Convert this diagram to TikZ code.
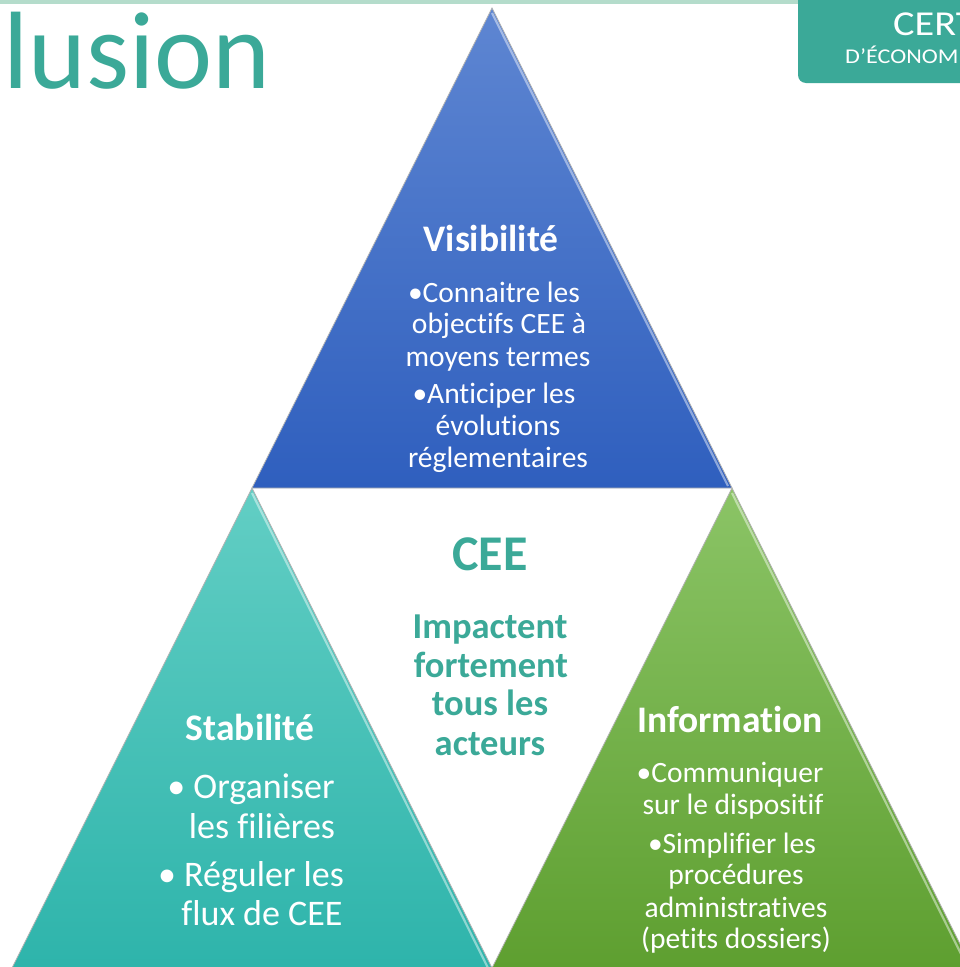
\documentclass[tikz,border=0pt]{standalone}
\usepackage{fontspec}
\usetikzlibrary{calc}
\setmainfont{Carlito}[Ligatures=CommonOff]
\newfontfamily\logofont{Carlito}[FakeStretch=1.15]
\definecolor{teal1}{HTML}{3BA998}
\definecolor{barcol}{HTML}{B4DCCB}
\definecolor{blueT}{HTML}{5E86D2}
\definecolor{blueB}{HTML}{2F5FBE}
\definecolor{tealT}{HTML}{62CEC4}
\definecolor{tealB}{HTML}{2EB4AB}
\definecolor{greenT}{HTML}{8BC466}
\definecolor{greenB}{HTML}{5E9F30}
\tikzset{
  tri/.style={draw=gray!60, line width=0.8pt, line join=miter},
  bevel/.style={line width=2.2pt, draw=white, opacity=0.45},
  head/.style={anchor=base, text=white, font=\fontsize{37.5}{37.5}\selectfont\bfseries, inner sep=0pt},
  small/.style={anchor=base, text=white, font=\fontsize{29.5}{29.5}\selectfont, inner sep=0pt},
  big/.style={anchor=base, text=white, font=\fontsize{36}{36}\selectfont, inner sep=0pt},
  ctr/.style={anchor=base, text=teal1, font=\fontsize{36.5}{36.5}\selectfont\bfseries, inner sep=0pt}
}
\begin{document}
\begin{tikzpicture}[x=1pt,y=-1pt]
\useasboundingbox (0,0) rectangle (959,967);
\fill[white] (0,0) rectangle (959,967);
% top bar and logo box
\fill[barcol] (0,0) rectangle (800,3.5);
\fill[teal1, rounded corners=8pt] (798,-20) rectangle (990,83);
\begin{scope}
\clip (0,0) rectangle (959,967);
\node[anchor=base west, text=white, font=\logofont\fontsize{35}{35}\selectfont, inner sep=0pt] (cert) at (893,35) {CERT};
\node[anchor=base west, text=white, font=\logofont\fontsize{21}{21}\selectfont, inner sep=0pt] (econ) at (845,63) {D’ÉCONOM};
\end{scope}
% title
\node[anchor=base west, text=teal1, font=\fontsize{110}{110}\selectfont, inner sep=0pt] (title) at (3,88) {lusion};
% triangle corners
\coordinate (tA) at (492,8);
\coordinate (tL) at (252,488);
\coordinate (tR) at (732,488);
\coordinate (lA) at (252,488);
\coordinate (lL) at (12,968);
\coordinate (lR) at (492,968);
\coordinate (rA) at (732,488);
\coordinate (rL) at (492,968);
\coordinate (rR) at (972,968);
% triangles
\shade[top color=blueT, bottom color=blueB] (tA) -- (tR) -- (tL) -- cycle;
\draw[tri] (tA) -- (tR) -- (tL) -- cycle;
\draw[bevel] ($(tA)+(0,5)$) -- ($(tR)+(-4,-2)$);
\shade[top color=tealT, bottom color=tealB] (lA) -- (lR) -- (lL) -- cycle;
\draw[tri] (lA) -- (lR) -- (lL) -- cycle;
\draw[bevel] ($(lA)+(0,5)$) -- ($(lR)+(-4,0)$);
\shade[top color=greenT, bottom color=greenB] (rA) -- (rR) -- (rL) -- cycle;
\draw[tri] (rA) -- (rR) -- (rL) -- cycle;
\draw[bevel] ($(rA)+(0,5)$) -- ($(rR)+(-4,0)$);
% Visibilite
\node[head] (vis) at (491,251) {Visibilité};
\node[small] (v1) at (494,302) {•Connaitre les};
\node[small] (v2) at (499,333) {objectifs CEE à};
\node[small] (v3) at (498,366) {moyens termes};
\node[small] (v4) at (494,403) {•Anticiper les};
\node[small] (v5) at (498,435) {évolutions};
\node[small] (v6) at (498,467) {réglementaires};
% Stabilite
\node[head] (sta) at (250,740) {Stabilité};
\node[big] (s1) at (251,798) {• Organiser};
\node[big] (s2) at (262,838) {les filières};
\node[big] (s3) at (251,886) {• Réguler les};
\node[big] (s4) at (262,925) {flux de CEE};
% Information
\node[head] (inf) at (730,732) {Information};
\node[small] (i1) at (730,782) {•Communiquer};
\node[small] (i2) at (733,814) {sur le dispositif};
\node[small] (i3) at (732,853) {•Simplifier les};
\node[small] (i4) at (736,884) {procédures};
\node[small] (i5) at (736,917) {administratives};
\node[small] (i6) at (736,948) {(petits dossiers)};
% centre
\node[anchor=base, text=teal1, font=\fontsize{50}{50}\selectfont\bfseries, inner sep=0pt] (cee) at (490,570) {CEE};
\node[ctr] (c1) at (490,638) {Impactent};
\node[ctr] (c2) at (491,677) {fortement};
\node[ctr] (c3) at (490,715) {tous les};
\node[ctr] (c4) at (490,755) {acteurs};
\end{tikzpicture}
\end{document}
